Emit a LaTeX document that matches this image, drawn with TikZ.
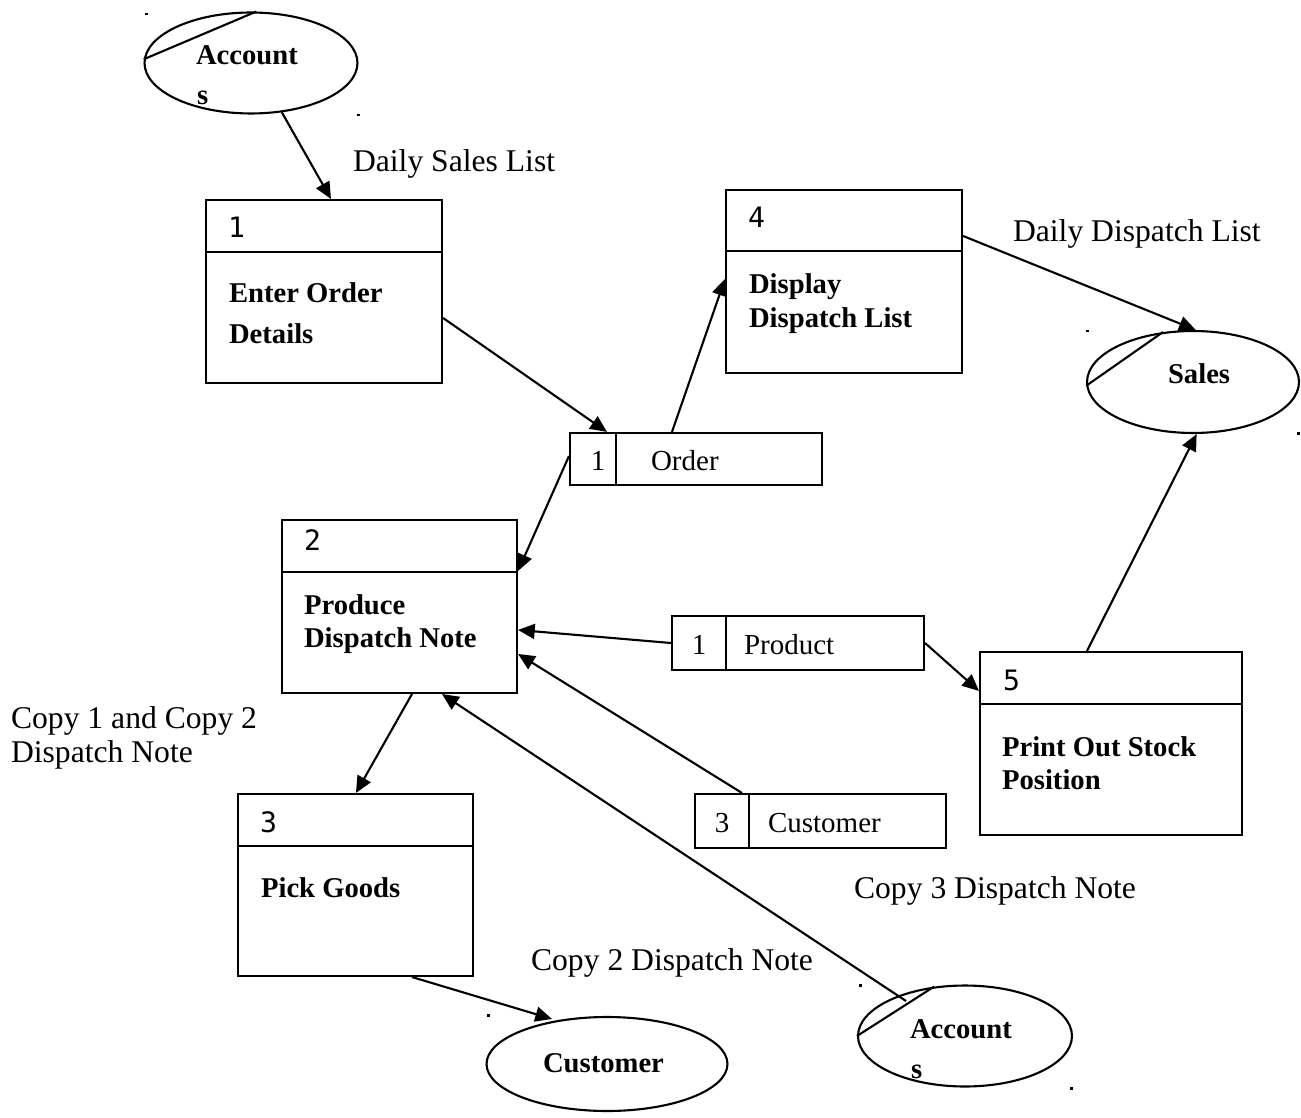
\documentclass[tikz,border=0pt]{standalone}
\usepackage{fontspec}
\setmainfont{Liberation Serif}
\newfontfamily\numfont{DejaVu Sans Mono}
\usetikzlibrary{shapes.geometric,arrows.meta,calc}
\begin{document}
\begin{tikzpicture}[x=0.02cm,y=-0.02cm,line width=1.2pt,
  procbox/.style={draw,rectangle,inner sep=0},
  storebox/.style={draw,rectangle,inner sep=0},
  entity/.style={draw,ellipse,inner sep=0},
  flow/.style={-{Triangle[length=9.5pt,width=8.5pt]}},
  lbl/.style={font=\fontsize{18}{21}\selectfont,inner sep=0,anchor=base west},
  btxt/.style={font=\fontsize{16.3}{19.6}\selectfont\bfseries,inner sep=0,anchor=base west},
  stxt/.style={font=\fontsize{16.5}{19.8}\selectfont,inner sep=0,anchor=base west},
  num/.style={font=\fontsize{16}{19}\selectfont\numfont,inner sep=0,anchor=base west}]
\useasboundingbox (0,0) rectangle (1301,1118);

% process boxes
\node[procbox,minimum width=4.72cm,minimum height=3.66cm] (p1) at (324,291.5) {};
\draw ($(p1.north west)+(0,53)$) -- ($(p1.north east)+(0,53)$);
\node[num] (p1n) at (227,238) {1};
\node[btxt] (p1a) at (228,303) {Enter Order};
\node[btxt] (p1b) at (228,343) {Details};

\node[procbox,minimum width=4.72cm,minimum height=3.66cm] (p4) at (844,281.5) {};
\draw ($(p4.north west)+(0,62)$) -- ($(p4.north east)+(0,62)$);
\node[num] (p4n) at (747,228) {4};
\node[btxt] (p4a) at (748,294) {Display};
\node[btxt] (p4b) at (748,328) {Dispatch List};

\node[procbox,minimum width=4.70cm,minimum height=3.46cm] (p2) at (399.5,606.5) {};
\draw ($(p2.north west)+(0,53)$) -- ($(p2.north east)+(0,53)$);
\node[num] (p2n) at (303,550) {2};
\node[btxt] (p2a) at (303,614) {Produce};
\node[btxt] (p2b) at (303,647) {Dispatch Note};

\node[procbox,minimum width=4.70cm,minimum height=3.64cm] (p3) at (355.5,885) {};
\draw ($(p3.north west)+(0,53)$) -- ($(p3.north east)+(0,53)$);
\node[num] (p3n) at (259,832) {3};
\node[btxt] (p3a) at (260,897) {Pick Goods};

\node[procbox,minimum width=5.24cm,minimum height=3.66cm] (p5) at (1111,743.5) {};
\draw ($(p5.north west)+(0,53)$) -- ($(p5.north east)+(0,53)$);
\node[num] (p5n) at (1002,690) {5};
\node[btxt] (p5a) at (1001,756) {Print Out Stock};
\node[btxt] (p5b) at (1001,789) {Position};

% data stores
\node[storebox,minimum width=5.04cm,minimum height=1.04cm] (s1) at (696,459) {};
\draw ($(s1.north west)+(47,0)$) -- ($(s1.south west)+(47,0)$);
\node[stxt,anchor=base] (s1n) at (598,470) {1};
\node[stxt] (s1t) at (650,470) {Order};

\node[storebox,minimum width=5.04cm,minimum height=1.08cm] (s2) at (798,643) {};
\draw ($(s2.north west)+(55,0)$) -- ($(s2.south west)+(55,0)$);
\node[stxt,anchor=base] (s2n) at (699,654) {1};
\node[stxt] (s2t) at (743,654) {Product};

\node[storebox,minimum width=5.02cm,minimum height=1.08cm] (s3) at (820.5,821) {};
\draw ($(s3.north west)+(55,0)$) -- ($(s3.south west)+(55,0)$);
\node[stxt,anchor=base] (s3n) at (722,832) {3};
\node[stxt] (s3t) at (767,832) {Customer};

% external entities
\node[entity,minimum width=4.26cm,minimum height=2.02cm] (acc1) at (251,63) {};
\draw (acc1.178) -- (acc1.84);
\node[btxt] (acc1a) at (195,65) {Account};
\node[btxt] (acc1b) at (196,105) {s};

\node[entity,minimum width=4.24cm,minimum height=2.04cm] (sales) at (1193,382) {};
\draw (sales.182) -- (sales.121);
\node[btxt] (salest) at (1167,383) {Sales};

\node[entity,minimum width=4.28cm,minimum height=2.02cm] (acc2) at (965,1036) {};
\draw (acc2.180) -- (acc2.122);
\node[btxt] (acc2a) at (909,1038) {Account};
\node[btxt] (acc2b) at (910,1078) {s};

\node[entity,minimum width=4.82cm,minimum height=1.88cm] (cust) at (607,1064) {};
\node[btxt] (custt) at (542,1072) {Customer};

% anchor dots
\foreach \dx/\dy in {145/13,357/114,1086/330,1297/432,487/1014,859/984,1070/1087}
  \fill (\dx,\dy) rectangle ++(2.5,2.5);

% flows
\draw[flow] (acc1.-58) -- ($(p1.north west)+(126,0)$);
\draw[flow] ($(p1.north east)+(0,119)$) -- ($(s1.north west)+(38,0)$);
\draw[flow] ($(s1.north west)+(103,0)$) -- ($(p4.north west)+(0,90)$);
\draw[flow] ($(p4.north east)+(0,47)$) -- (sales.87);
\draw[flow] ($(s1.west)+(0,-3)$) -- ($(p2.north east)+(0,52)$);
\draw[flow] (s2.west) -- ($(p2.north east)+(0,111)$);
\draw[flow] (s2.east) -- ($(p5.north west)+(0,40)$);
\draw[flow] ($(p5.north west)+(108,0)$) -- (sales.-86);
\draw[flow] ($(s3.north west)+(48,0)$) -- ($(p2.north east)+(0,135)$);
\draw[flow] ($(acc2.center)+(-59,-35)$) -- ($(p2.south west)+(161,0)$);
\draw[flow] ($(p2.south west)+(131,0)$) -- ($(p3.north west)+(119,0)$);
\draw[flow] ($(p3.south west)+(175,0)$) -- ($(cust.center)+(-55,-45)$);

% flow labels
\node[lbl] (l1) at (352,172) {Daily Sales List};
\node[lbl] (l2) at (1012,242) {Daily Dispatch List};
\node[lbl] (l3) at (10,728) {Copy 1 and Copy 2};
\node[lbl] (l4) at (10,762) {Dispatch Note};
\node[lbl] (l5) at (853,898) {Copy 3 Dispatch Note};
\node[lbl] (l6) at (530,970) {Copy 2 Dispatch Note};
\end{tikzpicture}
\end{document}
